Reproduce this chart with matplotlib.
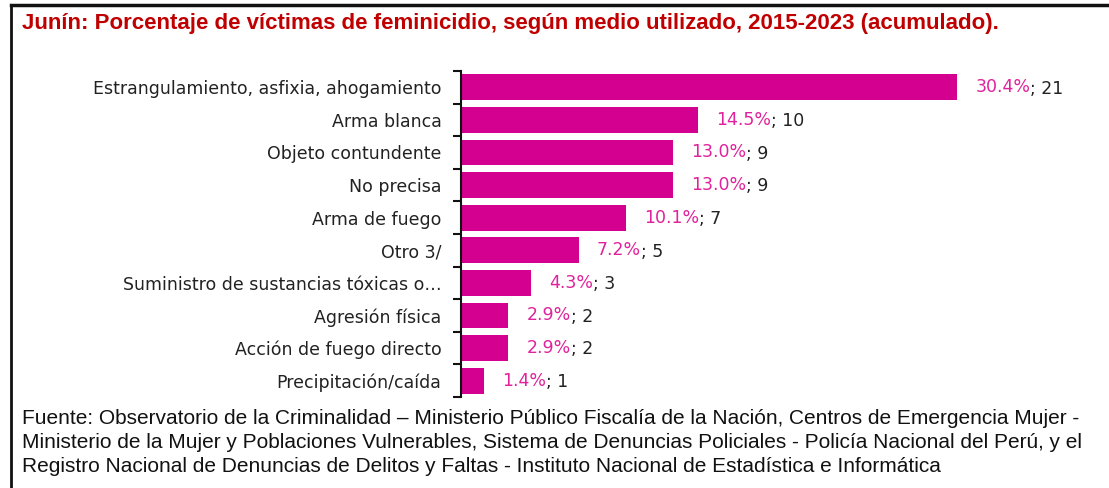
import numpy as np
import matplotlib.pyplot as plt
from matplotlib.ticker import FixedLocator, NullFormatter

# data
categories = [
    "Estrangulamiento, asfixia, ahogamiento",
    "Arma blanca",
    "Objeto contundente",
    "No precisa",
    "Arma de fuego",
    "Otro 3/",
    "Suministro de sustancias tóxicas o…",
    "Agresión física",
    "Acción de fuego directo",
    "Precipitación/caída",
]
percentages = [30.4, 14.5, 13.0, 13.0, 10.1, 7.2, 4.3, 2.9, 2.9, 1.4]
counts = [21, 10, 9, 9, 7, 5, 3, 2, 2, 1]

bar_color = "#D4008F"
pct_color = "#E0229C"
title_color = "#C00000"

fig = plt.figure(figsize=(11.09, 4.88), dpi=100)
ax = fig.add_axes([0.4157, 0.1865, 0.53, 0.668])

y = np.arange(len(categories))
ax.barh(y, percentages, height=0.79, color=bar_color)

ax.set_ylim(len(categories) - 0.5, -0.5)
ax.set_xlim(0, 36)

# category labels, ticks only at the category boundaries
ax.set_yticks(y)
ax.set_yticklabels(categories, fontsize=12.5, color="#222222", family="DejaVu Sans")
ax.tick_params(axis="y", which="major", length=0, pad=14)
ax.yaxis.set_minor_locator(FixedLocator(np.arange(-0.5, len(categories), 1.0)))
ax.yaxis.set_minor_formatter(NullFormatter())
ax.tick_params(axis="y", which="minor", length=6, width=1.5, color="#111111", direction="out")
ax.set_xticks([])

for side in ["top", "right", "bottom"]:
    ax.spines[side].set_visible(False)
ax.spines["left"].set_linewidth(1.5)
ax.spines["left"].set_color("#111111")

# value labels: percent in pink, count in dark grey
for yi, p, c in zip(y, percentages, counts):
    t1 = ax.annotate(f"{p:.1f}%", xy=(p, yi), xytext=(13, 0), textcoords="offset points",
                     va="center", ha="left", fontsize=12.5, color=pct_color,
                     family="DejaVu Sans")
    ax.annotate(f"; {c}", xy=(1, 0), xycoords=t1, xytext=(0, -1), textcoords="offset points",
                va="bottom", ha="left", fontsize=12.5, color="#222222",
                family="DejaVu Sans")

fig.text(0.020, 0.952, "Junín: Porcentaje de víctimas de feminicidio, según medio utilizado, 2015-2023 (acumulado).",
         fontsize=16, fontweight="bold", color=title_color,
         family="Liberation Sans", va="center", ha="left")

source = ("Fuente: Observatorio de la Criminalidad – Ministerio Público Fiscalía de la Nación, Centros de Emergencia Mujer -\n"
          "Ministerio de la Mujer y Poblaciones Vulnerables, Sistema de Denuncias Policiales - Policía Nacional del Perú, y el\n"
          "Registro Nacional de Denuncias de Delitos y Faltas - Instituto Nacional de Estadística e Informática")
fig.text(0.020, 0.162, source, fontsize=15, color="#111111",
         family="Liberation Sans", va="top", ha="left", linespacing=1.33)

# frame lines at the top and left edge
fig.add_artist(plt.Line2D([0.010, 1.0], [0.990, 0.990], color="#111111", lw=2.5))
fig.add_artist(plt.Line2D([0.010, 0.010], [0.0, 0.990], color="#111111", lw=2.0))

fig.savefig("out.png", dpi=100)
